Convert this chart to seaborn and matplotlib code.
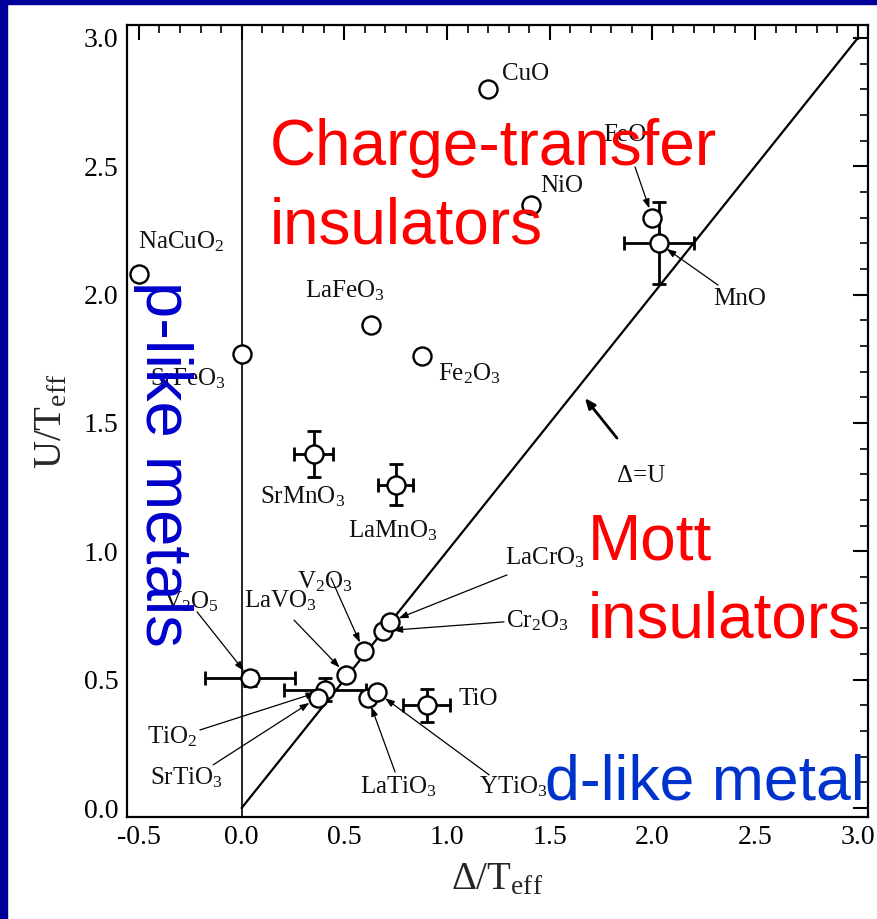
import matplotlib
matplotlib.use("Agg")
import matplotlib.pyplot as plt
from matplotlib.patches import Rectangle
from matplotlib.ticker import MultipleLocator, FormatStrFormatter
import seaborn as sns
import pandas as pd

# Zaanen-Sawatzky-Allen style classification of transition-metal compounds
names = ["CuO", "FeO", "MnO", "NiO", "NaCuO2", "LaFeO3", "Fe2O3", "SrFeO3",
         "SrMnO3", "LaMnO3", "V2O5", "TiO2", "SrTiO3", "LaVO3", "V2O3",
         "Cr2O3", "LaCrO3", "LaTiO3", "YTiO3", "TiO"]
delta_t = [1.20, 2.00, 2.03, 1.41, -0.50, 0.63, 0.88, 0.00,
           0.35, 0.75, 0.04, 0.405, 0.37, 0.51, 0.595,
           0.69, 0.72, 0.615, 0.66, 0.90]
u_t = [2.80, 2.30, 2.20, 2.35, 2.08, 1.88, 1.76, 1.77,
       1.38, 1.26, 0.505, 0.46, 0.43, 0.52, 0.61,
       0.69, 0.725, 0.43, 0.45, 0.40]

# compounds with error estimates
err_names = ["MnO", "SrMnO3", "LaMnO3", "V2O5", "TiO2", "TiO"]
err_dx = [0.17, 0.095, 0.085, 0.22, 0.20, 0.115]
err_dy = [0.16, 0.09, 0.08, 0.03, 0.045, 0.065]

labels = {
    "CuO": "CuO", "FeO": "FeO", "MnO": "MnO", "NiO": "NiO",
    "NaCuO2": "NaCuO$_2$", "LaFeO3": "LaFeO$_3$", "Fe2O3": "Fe$_2$O$_3$",
    "SrFeO3": "SrFeO$_3$", "SrMnO3": "SrMnO$_3$", "LaMnO3": "LaMnO$_3$",
    "V2O5": "V$_2$O$_5$", "TiO2": "TiO$_2$", "SrTiO3": "SrTiO$_3$",
    "LaVO3": "LaVO$_3$", "V2O3": "V$_2$O$_3$", "Cr2O3": "Cr$_2$O$_3$",
    "LaCrO3": "LaCrO$_3$", "LaTiO3": "LaTiO$_3$", "YTiO3": "YTiO$_3$",
    "TiO": "TiO",
}
# label anchor (left, baseline) in data units
label_pos = {
    "CuO": (1.268, 2.836), "FeO": (1.759, 2.60), "NiO": (1.452, 2.40),
    "NaCuO2": (-0.505, 2.18), "LaFeO3": (0.31, 1.99), "Fe2O3": (0.956, 1.667),
    "SrFeO3": (-0.447, 1.648), "SrMnO3": (0.089, 1.188), "LaMnO3": (0.518, 1.056),
    "MnO": (2.295, 1.96), "LaCrO3": (1.282, 0.947), "Cr2O3": (1.287, 0.705),
    "V2O3": (0.27, 0.857), "LaVO3": (0.011, 0.783), "V2O5": (-0.382, 0.779),
    "TiO": (1.058, 0.403), "TiO2": (-0.46, 0.253), "SrTiO3": (-0.446, 0.093),
    "LaTiO3": (0.576, 0.055), "YTiO3": (1.155, 0.055),
}
# leader lines: start point of each pointer line
pointer_from = {
    "FeO": (1.915, 2.497), "MnO": (2.319, 2.037), "Cr2O3": (1.277, 0.725),
    "LaCrO3": (1.292, 0.908), "V2O3": (0.435, 0.896), "LaVO3": (0.255, 0.732),
    "V2O5": (-0.217, 0.764), "TiO2": (-0.203, 0.304), "SrTiO3": (-0.139, 0.168),
    "LaTiO3": (0.747, 0.14), "YTiO3": (1.205, 0.129),
}

df = pd.DataFrame({"name": names, "delta": delta_t, "U": u_t})
pts = df.set_index("name")

sns.set_style("white")
plt.rcParams["font.family"] = ["Liberation Serif", "DejaVu Serif"]
plt.rcParams["mathtext.fontset"] = "custom"
plt.rcParams["mathtext.rm"] = "Liberation Serif"
plt.rcParams["mathtext.it"] = "Liberation Serif:italic"
plt.rcParams["axes.unicode_minus"] = False

W, H = 878, 919
fig = plt.figure(figsize=(W / 100, H / 100), dpi=100, facecolor="white")
ax = fig.add_axes([127 / W, 1 - 817 / H, (868 - 127) / W, (817 - 25) / H])

ax.set_xlim(-0.558, 3.049)
ax.set_ylim(-0.035, 3.05)

# boundary lines
ax.axvline(0, color="black", lw=1.2, zorder=1)
ax.plot([0, 3], [0, 3], color="black", lw=1.6, zorder=1)

# error bars
ex = [pts.loc[n, "delta"] for n in err_names]
ey = [pts.loc[n, "U"] for n in err_names]
ax.errorbar(ex, ey, xerr=err_dx, yerr=err_dy, fmt="none", ecolor="black",
            elinewidth=2.0, capsize=5, capthick=2.0, zorder=2)

# data points
sns.scatterplot(data=df, x="delta", y="U", marker="o", s=13 ** 2,
                color="white", edgecolor="black", linewidth=1.7,
                zorder=4, ax=ax, legend=False)

# compound labels
for n, (lx, ly) in label_pos.items():
    ax.text(lx, ly, labels[n], ha="left", va="baseline", fontsize=18,
            color="#111111", zorder=3)

# pointer lines
for n, (sx, sy) in pointer_from.items():
    ax.annotate("", xy=(pts.loc[n, "delta"], pts.loc[n, "U"]), xytext=(sx, sy),
                arrowprops=dict(arrowstyle="-|>,head_length=0.55,head_width=0.2",
                                lw=0.9, color="black", shrinkA=0, shrinkB=7),
                zorder=3)

# Delta = U marker
ax.text(1.827, 1.27, "Δ=U", ha="left", va="baseline", fontsize=18, color="#111111")
ax.annotate("", xy=(1.671, 1.597), xytext=(1.827, 1.441),
            arrowprops=dict(arrowstyle="-|>,head_length=0.6,head_width=0.25",
                            lw=2.0, color="black", shrinkA=0, shrinkB=0))

# axes styling
ax.xaxis.set_major_locator(MultipleLocator(0.5))
ax.xaxis.set_minor_locator(MultipleLocator(0.1))
ax.yaxis.set_major_locator(MultipleLocator(0.5))
ax.yaxis.set_minor_locator(MultipleLocator(0.1))
ax.xaxis.set_major_formatter(FormatStrFormatter("%.1f"))
ax.yaxis.set_major_formatter(FormatStrFormatter("%.1f"))
ax.tick_params(which="both", direction="in", top=True, right=True,
               colors="black")
ax.tick_params(which="major", length=11, width=1.5, labelsize=20, pad=6)
ax.tick_params(which="minor", length=6, width=1.2)
for s in ax.spines.values():
    s.set_linewidth(1.6)
    s.set_color("black")

ax.set_xlabel("Δ/T$_{\\rm eff}$", fontsize=28, labelpad=8)
ax.set_ylabel("U/T$_{\\rm eff}$", fontsize=28, labelpad=10)

# region names
red = "#FF0000"
sans = ["Liberation Sans", "DejaVu Sans"]
def ftext(px, py, s, color, size=46, **kw):
    fig.text(px / W, 1 - py / H, s, color=color, fontsize=size,
             family=sans, zorder=10, **kw)

ftext(270, 165, "Charge-transfer", red, ha="left", va="baseline")
ftext(270, 244, "insulators", red, ha="left", va="baseline")
ftext(588, 559, "Mott", red, ha="left", va="baseline")
ftext(588, 637, "insulators", red, ha="left", va="baseline")
ftext(545, 800, "d-like metal", "#0033CC", size=45, ha="left", va="baseline")
ftext(163, 464, "p-like metals", "#0000CC", size=47, ha="center", va="center",
      rotation=270)

# slide frame
fig.patches.append(Rectangle((0, 0), 7 / W, 1, transform=fig.transFigure,
                             color="#000099", zorder=20))
fig.patches.append(Rectangle((0, 1 - 4 / H), 1, 4 / H, transform=fig.transFigure,
                             color="#000099", zorder=20))

fig.savefig("out.png", dpi=100, facecolor="white")
